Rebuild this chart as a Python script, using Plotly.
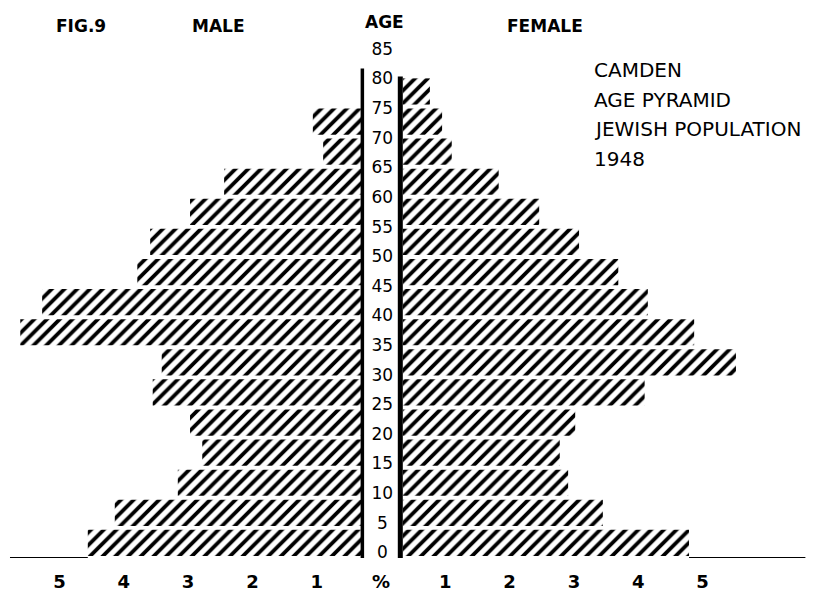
import plotly.graph_objects as go

# Age groups (lower bound of each 5-year band)
age_lower = [0, 5, 10, 15, 20, 25, 30, 35, 40, 45, 50, 55, 60, 65, 70, 75]
# Percent of population
male_pct = [4.56, 4.14, 3.16, 2.78, 2.97, 3.55, 3.41, 5.61, 5.27, 3.79, 3.59, 2.97, 2.44, 0.90, 1.06, 0.0]
female_pct = [4.79, 3.45, 2.91, 2.78, 3.02, 4.10, 5.52, 4.87, 4.15, 3.69, 3.08, 2.46, 1.83, 1.10, 0.95, 0.76]
age_ticks = [0, 5, 10, 15, 20, 25, 30, 35, 40, 45, 50, 55, 60, 65, 70, 75, 80, 85]
pct_tickvals = [-5, -4, -3, -2, -1, 0, 1, 2, 3, 4, 5]
pct_ticktext = ["5", "4", "3", "2", "1", "%", "1", "2", "3", "4", "5"]

FONT = "DejaVu Sans"
strip_left = -0.29   # inner edge of male bars (central label strip)
strip_right = 0.34   # inner edge of female bars
band = 5
bar_w = 4.35

centers = [a + band / 2 for a in age_lower]
pattern = dict(shape="/", fgcolor="black", bgcolor="white", fgopacity=1,
               size=9, solidity=0.42, fillmode="replace")

fig = go.Figure()
fig.add_trace(go.Bar(
    y=centers, x=[-(m + strip_left) if m > 0 else 0 for m in male_pct],
    base=strip_left, orientation="h", width=bar_w, opacity=1,
    marker=dict(color="white", opacity=1, pattern=pattern, line=dict(width=0)),
    showlegend=False, hoverinfo="skip"))
fig.add_trace(go.Bar(
    y=centers, x=[f - strip_right for f in female_pct],
    base=strip_right, orientation="h", width=bar_w, opacity=1,
    marker=dict(color="white", opacity=1, pattern=pattern, line=dict(width=0)),
    showlegend=False, hoverinfo="skip"))

# age labels in the central strip (hand-lettered positions drift slightly)
fig.add_trace(go.Scatter(
    x=[0.02] * len(age_ticks), y=[a * 0.984 + 0.65 for a in age_ticks],
    mode="text", text=[str(a) for a in age_ticks],
    textfont=dict(family=FONT, size=17, color="black"),
    showlegend=False, hoverinfo="skip", cliponaxis=False))

# central strip lines
fig.add_shape(type="line", x0=strip_left, x1=strip_left, y0=0, y1=81.3,
              line=dict(color="black", width=3.5))
fig.add_shape(type="line", x0=0.30, x1=0.30, y0=0, y1=80,
              line=dict(color="black", width=5))
# baseline beyond the bars
fig.add_shape(type="line", x0=-5.77, x1=-male_pct[0], y0=0, y1=0,
              line=dict(color="black", width=2))
fig.add_shape(type="line", x0=female_pct[0], x1=6.6, y0=0, y1=0,
              line=dict(color="black", width=2))

# headings above the plot (paper y)
head = [("FIG.9", -4.67, 1.027), ("MALE", -2.52, 1.027), ("AGE", 0.05, 1.035), ("FEMALE", 2.55, 1.027)]
for txt, xv, yv in head:
    fig.add_annotation(x=xv, y=yv, xref="x", yref="paper", text="<b>" + txt + "</b>",
                       showarrow=False, font=dict(family=FONT, size=17, color="black"),
                       xanchor="center", yanchor="middle")

title_lines = ["CAMDEN", "AGE PYRAMID", "JEWISH POPULATION", "1948"]
for i, t in enumerate(title_lines):
    fig.add_annotation(x=3.28, y=81.0 - i * 4.9, text=t, showarrow=False,
                       font=dict(family=FONT, size=20, color="black"),
                       xanchor="left", yanchor="middle")

fig.update_layout(
    width=808, height=584,
    margin=dict(l=0, r=0, t=32, b=34),
    paper_bgcolor="white", plot_bgcolor="white",
    barmode="overlay",
    xaxis=dict(range=[-5.801, 6.765], tickvals=pct_tickvals, ticktext=pct_ticktext,
               showgrid=False, zeroline=False, showline=False, ticks="",
               tickfont=dict(family=FONT, size=18, color="black", weight="bold"),
               ticklabelstandoff=11, fixedrange=True),
    yaxis=dict(range=[0, 86.05], showgrid=False, zeroline=False, showline=False,
               showticklabels=False, ticks="", fixedrange=True),
)
fig.write_html("out.html")
